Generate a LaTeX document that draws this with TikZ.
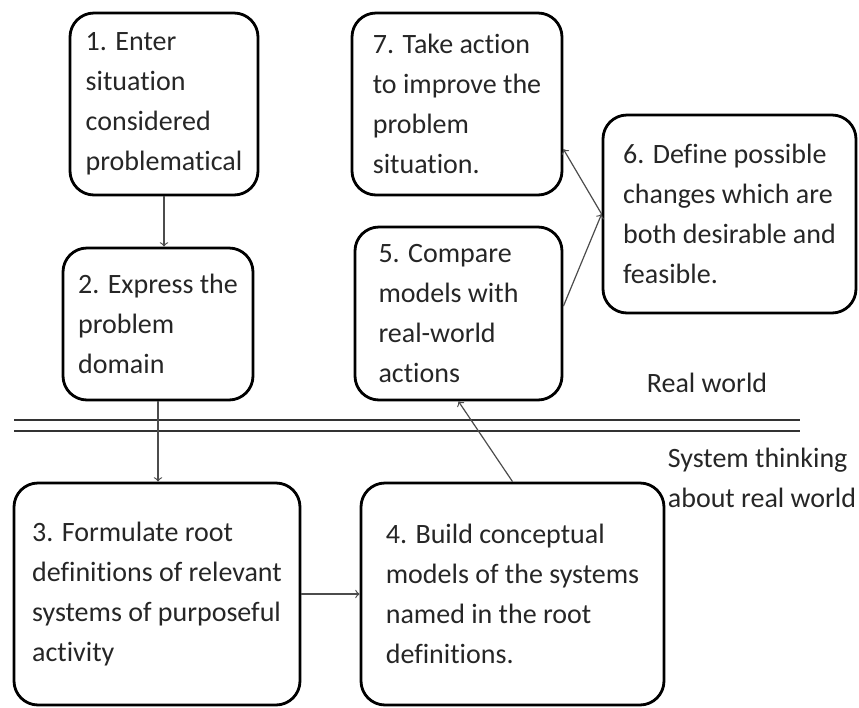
\documentclass[tikz,border=0pt]{standalone}
\usepackage{fontspec}
\setmainfont{Carlito}[Ligatures={NoCommon}]
\begin{document}
\begin{tikzpicture}[x=0.5pt, y=-0.5pt,
stage/.style={rectangle, rounded corners=12pt, draw=black, line width=1.4pt, align=left, font=\fontsize{14}{20}\selectfont, text=black!85},
note/.style={align=left, font=\fontsize{14}{20}\selectfont, text=black!85},
flow/.style={->, line width=0.6pt, draw=black!70},
divider/.style={line width=1.3pt, draw=black!80},
]
\useasboundingbox (0,0) rectangle (859,708);
% real world
\node (s1) [stage, minimum width=94pt, minimum height=91pt] at (164,104)
	{1. Enter\\situation\\considered\\problematical};
\node (s2) [stage, minimum width=95pt, minimum height=76pt] at (158,324)
	{2. Express the\\problem\\domain};
\node (s7) [stage, minimum width=105pt, minimum height=91pt] at (457,104)
	{7. Take action\\to improve the\\problem\\situation.};
\node (s5) [stage, align=flush left, text width=80pt, minimum width=103.5pt, minimum height=86.5pt] at (458.5,313.5)
	{5. Compare\\models with\\real-world\\actions};
\node (s6) [stage, minimum width=126.5pt, minimum height=99pt] at (729.5,214)
	{6. Define possible\\changes which are\\both desirable and\\feasible.};
\node (rw) [note] at (707,383) {Real world};
% systems thinking
\node (s3) [stage, minimum width=143pt, minimum height=111pt] at (157,594)
	{3. Formulate root\\definitions of relevant\\systems of purposeful\\activity};
\node (s4) [stage, minimum width=151.5pt, minimum height=111pt] at (512.5,594)
	{4. Build conceptual\\models of the systems\\named in the root\\definitions.};
\node (st) [note] at (762,478) {System thinking\\about real world};
% the line between the two worlds
\draw[divider] (14,420) -- (800,420);
\draw[divider] (14,431) -- (800,431);
% arrows
\draw[flow] (s1.south) -- (s1.south |- s2.north);
\draw[flow] (s2.south) -- (s2.south |- s3.north);
\draw[flow] (s3.east) -- (s4.west);
\draw[flow] (s4.north) -- (s5.south);
\draw[flow] (s5.4) -- (s6.west);
\draw[flow] (s6.west) -- (s7.-23);
\end{tikzpicture}
\end{document}
